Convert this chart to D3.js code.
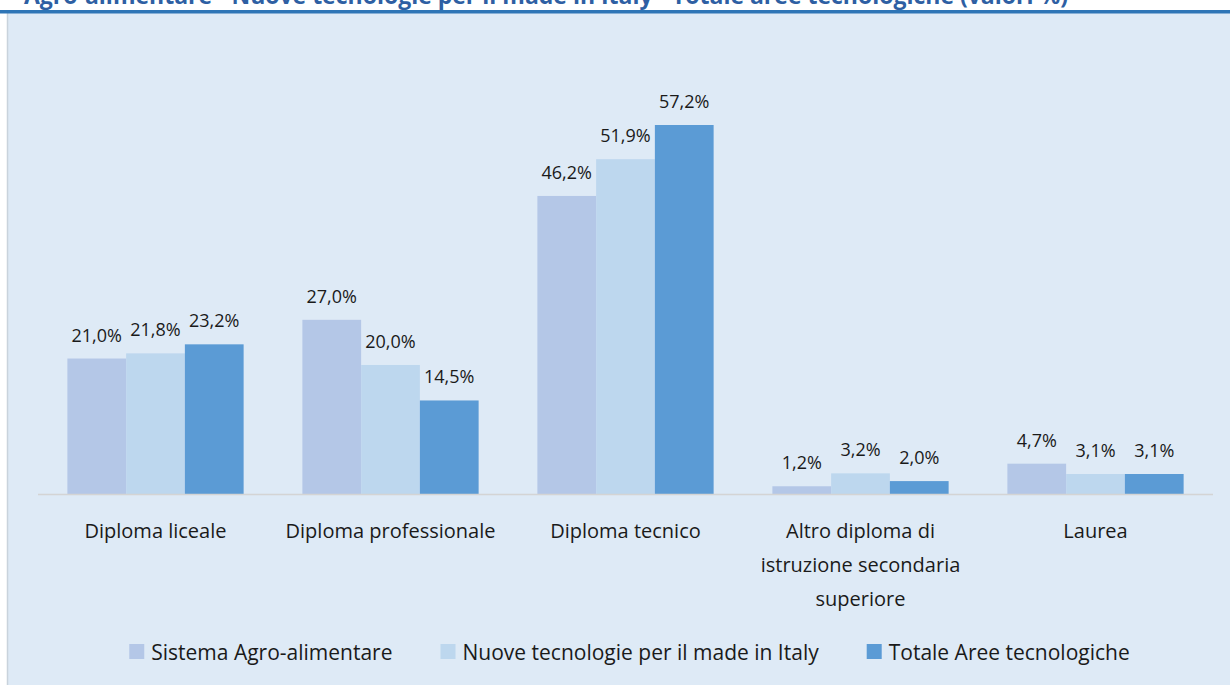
<!DOCTYPE html>
<html>
<head>
<meta charset="utf-8">
<script src="https://cdn.jsdelivr.net/npm/d3@7"></script>
<style>
  html, body { margin: 0; padding: 0; background: #fff; }
  svg { display: block; font-family: "Open Sans", "Noto Sans", sans-serif; }
</style>
</head>
<body>
<div id="chart"></div>
<script>
const categories = [
  ["Diploma liceale"],
  ["Diploma professionale"],
  ["Diploma tecnico"],
  ["Altro diploma di", "istruzione secondaria", "superiore"],
  ["Laurea"]
];
const seriesNames = ["Sistema Agro-alimentare", "Nuove tecnologie per il made in Italy", "Totale Aree tecnologiche"];
const agro = [21.0, 27.0, 46.2, 1.2, 4.7];
const nuove = [21.8, 20.0, 51.9, 3.2, 3.1];
const totale = [23.2, 14.5, 57.2, 2.0, 3.1];
const colors = ["#b4c7e7", "#bdd7ee", "#5b9bd5"];

const W = 1230, H = 685;
const baseY = 494;

const svg = d3.select("#chart").append("svg")
  .attr("width", W)
  .attr("height", H);

// title (clipped at top like the original)
svg.append("text")
  .attr("x", 24)
  .attr("y", 4)
  .style("font-family", "'Open Sans', sans-serif")
  .style("font-weight", "bold")
  .style("font-size", "23px")
  .attr("fill", "#2e5fa3")
  .text("Agro-alimentare - Nuove tecnologie per il made in Italy - Totale aree tecnologiche (valori %)");

// panel
svg.append("rect")
  .attr("x", 7).attr("y", 13)
  .attr("width", W - 7).attr("height", H - 13)
  .attr("fill", "#deeaf6");
svg.append("line")
  .attr("x1", 7.5).attr("x2", 7.5)
  .attr("y1", 13).attr("y2", H)
  .attr("stroke", "#c9d3dc").attr("stroke-width", 1.5);
svg.append("rect")
  .attr("x", 0).attr("y", 10)
  .attr("width", W).attr("height", 3.5)
  .attr("fill", "#2e75b6");

const data = categories.map((c, i) => ({ cat: i, label: c, values: [agro[i], nuove[i], totale[i]] }));

const x = d3.scaleBand()
  .domain(data.map(d => d.cat))
  .range([38, 1213])
  .paddingInner(0)
  .paddingOuter(0);

const x1 = d3.scaleBand()
  .domain([0, 1, 2])
  .range([x.bandwidth() * 0.125, x.bandwidth() * 0.875]);

const y = d3.scaleLinear()
  .domain([0, 57.2])
  .range([baseY, 125]);

const groups = svg.selectAll("g.grp")
  .data(data)
  .enter()
  .append("g")
  .attr("class", "grp")
  .attr("transform", d => `translate(${x(d.cat)},0)`);

groups.selectAll("rect")
  .data(d => d.values.map((v, s) => ({ v, s })))
  .enter()
  .append("rect")
  .attr("x", d => x1(d.s))
  .attr("y", d => y(d.v))
  .attr("width", x1.bandwidth())
  .attr("height", d => baseY - y(d.v))
  .attr("fill", d => colors[d.s]);

groups.selectAll("text.val")
  .data(d => d.values.map((v, s) => ({ v, s })))
  .enter()
  .append("text")
  .attr("class", "val")
  .attr("x", d => x1(d.s) + x1.bandwidth() / 2)
  .attr("y", d => y(d.v) - 17)
  .attr("text-anchor", "middle")
  .style("font-size", "18px")
  .attr("fill", "#1a1a1a")
  .text(d => d.v.toFixed(1).replace(".", ",") + "%");

// baseline
svg.append("line")
  .attr("x1", 38).attr("x2", 1213)
  .attr("y1", baseY + 0.5).attr("y2", baseY + 0.5)
  .attr("stroke", "#d4d4d4").attr("stroke-width", 1.5);

// category labels
groups.append("text")
  .attr("x", x.bandwidth() / 2)
  .attr("y", 538)
  .attr("text-anchor", "middle")
  .style("font-size", "20px")
  .attr("fill", "#1a1a1a")
  .selectAll("tspan")
  .data(d => d.label)
  .enter()
  .append("tspan")
  .attr("x", x.bandwidth() / 2)
  .attr("dy", (d, i) => i === 0 ? 0 : 34)
  .text(d => d);

// legend
const legend = svg.append("g");
let lx = 0;
seriesNames.forEach((name, i) => {
  const item = legend.append("g").attr("transform", `translate(${lx},0)`);
  item.append("rect")
    .attr("x", 0).attr("y", 644)
    .attr("width", 15).attr("height", 15)
    .attr("fill", colors[i]);
  const t = item.append("text")
    .attr("x", 22).attr("y", 660)
    .style("font-size", "21px")
    .attr("fill", "#1a1a1a")
    .text(name);
  lx += 22 + t.node().getComputedTextLength() + 48;
});
const legendW = lx - 48;
legend.attr("transform", `translate(${(118 + 1141) / 2 - legendW / 2},0)`);
</script>
</body>
</html>
